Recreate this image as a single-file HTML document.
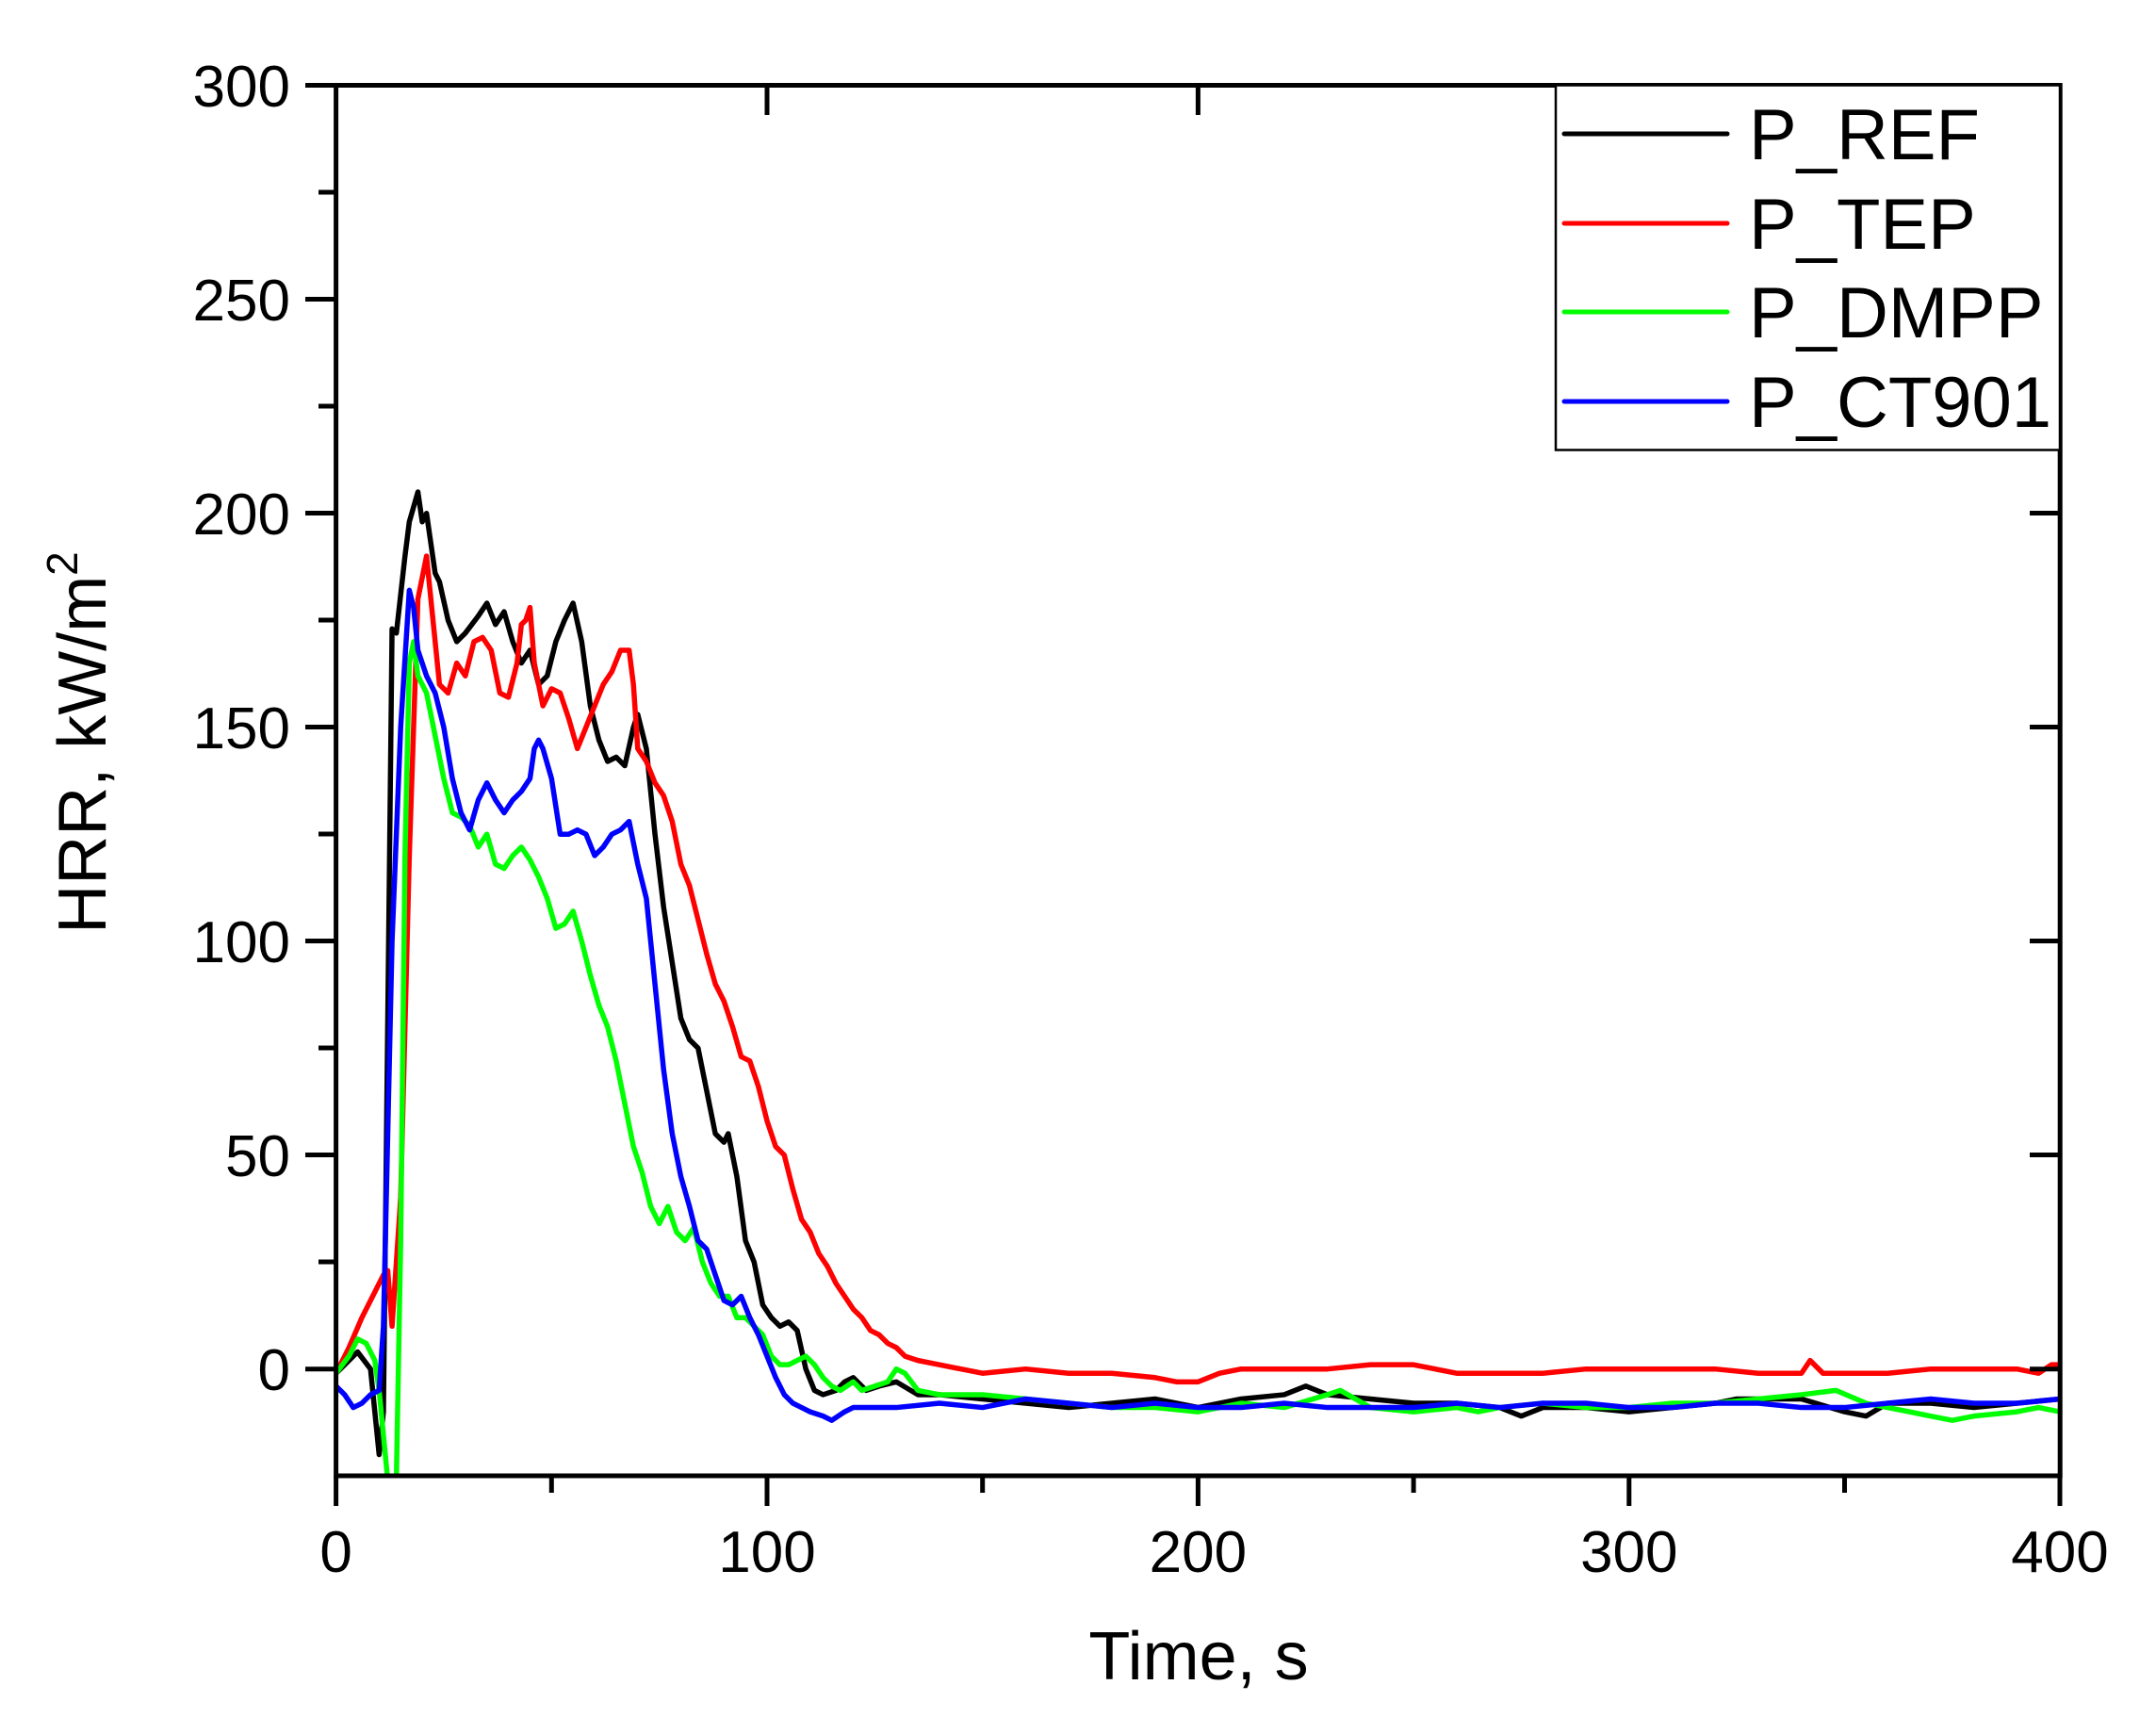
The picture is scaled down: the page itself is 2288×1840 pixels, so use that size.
<!DOCTYPE html>
<html><head><meta charset="utf-8"><style>
html,body{margin:0;padding:0;background:#fff}
svg{display:block}
text{font-family:"Liberation Sans",Arial,sans-serif;fill:#000}
</style></head><body>
<svg width="2288" height="1840" viewBox="0 0 2288 1840" xmlns="http://www.w3.org/2000/svg">
<defs><clipPath id="c"><rect x="356.6" y="90.5" width="1829.6" height="1475.5"/></clipPath></defs>
<g clip-path="url(#c)" fill="none" stroke-width="5.5" stroke-linejoin="round">
<g transform="matrix(4.574 0 0 -4.54 356.6 1452.7)">
<polyline vector-effect="non-scaling-stroke" stroke="#000" points="0,-1 3,2 5,4 8,0 10,-20 11,-10 13,173 14,172 16,190 17,198 19,205 20,198 21,200 23,186 24,184 26,175 28,170 30,172 33,176 35,179 37,174 39,177 41,170 43,165 45,168 47,160 49,162 51,170 53,175 55,179 57,170 59,155 61,147 63,142 65,143 67,141 69,150 70,153 72,145 74,125 76,108 78,95 80,82 82,77 84,75 86,65 88,55 90,53 91,55 93,45 95,30 97,25 99,15 101,12 103,10 105,11 107,9 109,0 111,-5 113,-6 116,-5 118,-3 120,-2 123,-5 126,-4 130,-3 135,-6 140,-6 150,-7 160,-8 170,-9 180,-8 190,-7 200,-9 210,-7 220,-6 225,-4 230,-6 240,-7 250,-8 260,-8 270,-9 275,-11 280,-9 290,-9 300,-10 310,-9 320,-8 325,-7 330,-7 340,-7 350,-10 355,-11 360,-8 370,-8 380,-9 390,-8 400,-7"/>
<polyline vector-effect="non-scaling-stroke" stroke="#f00" points="0,-1 3,5 6,12 9,18 11,22 12,23 13,10 15,40 17,120 19,180 21,190 22,180 24,160 26,158 28,165 30,162 32,170 34,171 36,168 38,158 40,157 42,165 43,174 44,175 45,178 46,165 48,155 50,159 52,158 54,152 56,145 58,150 60,155 62,160 64,163 66,168 68,168 69,160 70,145 72,142 74,137 76,134 78,128 80,118 82,113 84,105 86,97 88,90 90,86 92,80 94,73 96,72 98,66 100,58 102,52 104,50 106,42 108,35 110,32 112,27 114,24 116,20 118,17 120,14 122,12 124,9 126,8 128,6 130,5 132,3 135,2 140,1 145,0 150,-1 160,0 170,-1 180,-1 190,-2 195,-3 200,-3 205,-1 210,0 220,0 230,0 240,1 250,1 260,-1 270,-1 280,-1 290,0 300,0 310,0 320,0 330,-1 340,-1 342,2 345,-1 350,-1 360,-1 370,0 380,0 390,0 395,-1 398,1 400,1"/>
<polyline vector-effect="non-scaling-stroke" stroke="#0f0" points="0,-1 3,3 5,7 7,6 9,2 10,-5 12,-26 14,-26 15,30 16,120 17,165 18,170 19,162 21,158 23,148 25,138 27,130 29,129 31,127 33,122 35,125 37,118 39,117 41,120 43,122 45,119 47,115 49,110 51,103 53,104 55,107 57,100 59,92 61,85 63,80 65,72 67,62 69,52 71,46 73,38 75,34 76,36 77,38 79,32 81,30 83,33 85,25 87,20 89,17 91,17 93,12 95,12 97,10 99,8 101,3 103,1 105,1 107,2 109,3 111,1 113,-2 115,-4 117,-5 120,-3 122,-5 125,-4 128,-3 130,0 132,-1 135,-5 140,-6 150,-6 160,-7 170,-8 180,-9 190,-9 200,-10 210,-8 220,-9 230,-6 233,-5 240,-9 250,-10 260,-9 265,-10 270,-9 280,-8 290,-9 300,-9 310,-8 320,-8 330,-7 340,-6 348,-5 355,-8 360,-9 370,-11 375,-12 380,-11 390,-10 395,-9 400,-10"/>
<polyline vector-effect="non-scaling-stroke" stroke="#00f" points="0,-4 2,-6 4,-9 6,-8 8,-6 10,-5 11,10 13,100 15,150 17,182 18,178 19,168 21,162 23,158 25,150 27,138 29,130 31,126 33,133 35,137 37,133 39,130 41,133 43,135 45,138 46,145 47,147 48,145 50,138 52,125 54,125 56,126 58,125 60,120 62,122 64,125 66,126 68,128 70,118 72,110 74,90 76,70 78,55 80,45 82,38 84,30 86,28 88,22 90,16 92,15 94,17 96,12 98,8 100,3 102,-2 104,-6 106,-8 108,-9 110,-10 113,-11 115,-12 118,-10 120,-9 125,-9 130,-9 140,-8 150,-9 160,-7 170,-8 180,-9 190,-8 200,-9 210,-9 220,-8 230,-9 240,-9 250,-9 260,-8 270,-9 280,-8 290,-8 300,-9 310,-9 320,-8 330,-8 340,-9 350,-9 360,-8 370,-7 380,-8 390,-8 400,-7"/>
</g></g>
<g stroke="#000" stroke-width="5" fill="none">
<rect x="356.6" y="90.5" width="1829.6" height="1475.5"/>
<path d="M324 90.5H357M324 317.5H357M324 544.5H357M324 771.5H357M324 998.5H357M324 1225.5H357M324 1452.7H357"/>
<path d="M338 204H357M338 431H357M338 658H357M338 885H357M338 1112H357M338 1339H357"/>
<path d="M2154 317.5H2186M2154 544.5H2186M2154 771.5H2186M2154 998.5H2186M2154 1225.5H2186M2154 1452.7H2186"/>
<path d="M356.6 1566V1598M814 1566V1598M1271.4 1566V1598M1728.8 1566V1598M2186 1566V1598"/>
<path d="M585.3 1566V1584M1042.7 1566V1584M1500.1 1566V1584M1957.5 1566V1584"/>
<path d="M814 90.5V122M1271.4 90.5V122M1728.8 90.5V122"/>
</g>
<g font-size="62" text-anchor="end">
<text x="308" y="113">300</text><text x="308" y="340">250</text><text x="308" y="567">200</text>
<text x="308" y="794">150</text><text x="308" y="1021">100</text><text x="308" y="1248">50</text><text x="308" y="1475">0</text>
</g>
<g font-size="62" text-anchor="middle">
<text x="356.6" y="1668">0</text><text x="814" y="1668">100</text><text x="1271.4" y="1668">200</text><text x="1728.8" y="1668">300</text><text x="2186" y="1668">400</text>
</g>
<text x="1272" y="1782" font-size="72" text-anchor="middle">Time, s</text>
<text transform="translate(112,788) rotate(-90)" font-size="72" text-anchor="middle">HRR, kW/m<tspan font-size="46" dy="-30">2</tspan></text>
<rect x="1651" y="90.5" width="535" height="387" fill="#fff" stroke="#000" stroke-width="2.5"/>
<g stroke-width="5" stroke-linecap="round">
<line x1="1660" y1="142" x2="1833" y2="142" stroke="#000"/>
<line x1="1660" y1="237" x2="1833" y2="237" stroke="#f00"/>
<line x1="1660" y1="331" x2="1833" y2="331" stroke="#0f0"/>
<line x1="1660" y1="426" x2="1833" y2="426" stroke="#00f"/>
</g>
<g font-size="76">
<text x="1856" y="169">P_REF</text><text x="1856" y="264">P_TEP</text><text x="1856" y="358">P_DMPP</text><text x="1856" y="453">P_CT901</text>
</g>
</svg>
</body></html>
